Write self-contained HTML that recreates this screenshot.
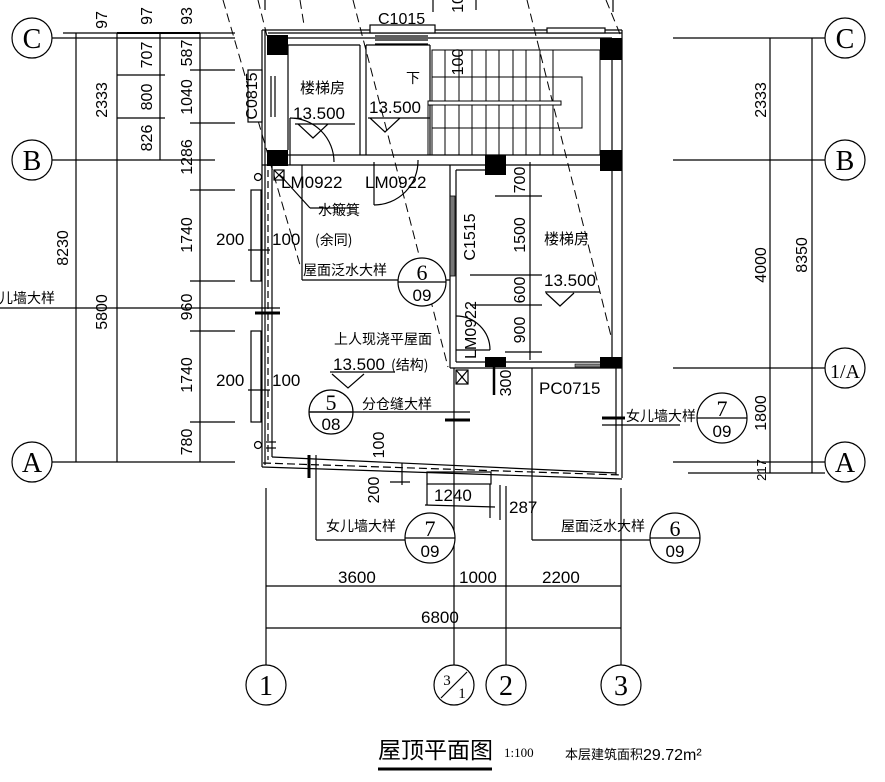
<!DOCTYPE html>
<html><head><meta charset="utf-8"><style>
html,body{margin:0;padding:0;background:#fff;}
svg{display:block}
text{font-family:"Liberation Sans","Noto Sans CJK SC",sans-serif;fill:#000}
.c{font-family:"Noto Sans CJK SC","WenQuanYi Zen Hei",sans-serif}
</style></head><body>
<svg width="885" height="782" viewBox="0 0 885 782" xmlns="http://www.w3.org/2000/svg" stroke="#000" fill="none" stroke-width="1.2">
<g stroke-dasharray="9,5" stroke-width="1">
<line x1="223" y1="0" x2="300" y2="265"/>
<line x1="258" y1="0" x2="268" y2="40"/>
<line x1="353" y1="0" x2="448" y2="367"/>
<line x1="527" y1="0" x2="612" y2="340"/>
<line x1="606" y1="0" x2="620" y2="34"/>
<line x1="300" y1="0" x2="304" y2="25"/>
</g>
<line x1="433" y1="0" x2="433" y2="12"/><line x1="476" y1="0" x2="476" y2="10"/><line x1="613" y1="0" x2="613" y2="12"/><line x1="265" y1="0" x2="265" y2="10"/>

<g stroke-width="1.2">
<line x1="52" y1="38" x2="235" y2="38"/>
<line x1="63" y1="33" x2="235" y2="33"/>
<line x1="52" y1="160" x2="215" y2="160"/>
<line x1="52" y1="462" x2="235" y2="462"/>
<line x1="0" y1="308" x2="280" y2="308"/>
<line x1="76" y1="33" x2="76" y2="462"/>
<line x1="117" y1="33" x2="117" y2="462"/>
<line x1="160" y1="33" x2="160" y2="160"/>
<line x1="200" y1="33" x2="200" y2="462"/>
<line x1="117" y1="75" x2="165" y2="75"/><line x1="117" y1="118" x2="165" y2="118"/>
<line x1="190" y1="70" x2="235" y2="70"/><line x1="190" y1="123" x2="235" y2="123"/>
<line x1="190" y1="190" x2="235" y2="190"/><line x1="190" y1="281" x2="235" y2="281"/>
<line x1="190" y1="331" x2="235" y2="331"/><line x1="190" y1="422" x2="235" y2="422"/>
</g>
<line x1="117" y1="33" x2="200" y2="33" stroke-width="2"/>
<g fill="#fff">
<circle cx="32" cy="38" r="20"/><circle cx="32" cy="160" r="20"/><circle cx="32" cy="462" r="20"/>
<circle cx="845" cy="38" r="20"/><circle cx="845" cy="160" r="20"/><circle cx="845" cy="368" r="20"/><circle cx="845" cy="462" r="20"/>
</g>
<g font-size="28" stroke="none" text-anchor="middle">
<text x="32" y="48" style="font-family:'Liberation Serif',serif">C</text>
<text x="32" y="170" style="font-family:'Liberation Serif',serif">B</text>
<text x="32" y="472" style="font-family:'Liberation Serif',serif">A</text>
<text x="845" y="48" style="font-family:'Liberation Serif',serif">C</text>
<text x="845" y="170" style="font-family:'Liberation Serif',serif">B</text>
<text x="845" y="472" style="font-family:'Liberation Serif',serif">A</text>
<text x="845" y="378" font-size="20" style="font-family:'Liberation Serif',serif">1/A</text>
</g>
<g stroke="none" font-size="16" text-anchor="middle">
<text transform="translate(68,248) rotate(-90)">8230</text>
<text transform="translate(107,100) rotate(-90)">2333</text>
<text transform="translate(107,312) rotate(-90)">5800</text>
<text transform="translate(107,20) rotate(-90)">97</text>
<text transform="translate(152,16) rotate(-90)">97</text>
<text transform="translate(152,55) rotate(-90)">707</text>
<text transform="translate(152,97) rotate(-90)">800</text>
<text transform="translate(152,138) rotate(-90)">826</text>
<text transform="translate(192,16) rotate(-90)">93</text>
<text transform="translate(192,53) rotate(-90)">587</text>
<text transform="translate(192,97) rotate(-90)">1040</text>
<text transform="translate(192,157) rotate(-90)">1286</text>
<text transform="translate(192,235) rotate(-90)">1740</text>
<text transform="translate(192,307) rotate(-90)">960</text>
<text transform="translate(192,375) rotate(-90)">1740</text>
<text transform="translate(192,442) rotate(-90)">780</text>
<text class="c" x="20" y="303" font-size="14">女儿墙大样</text>
</g>

<line x1="673" y1="38" x2="825" y2="38"/>
<line x1="673" y1="160" x2="825" y2="160"/>
<line x1="673" y1="368" x2="825" y2="368"/>
<line x1="673" y1="462" x2="825" y2="462"/>
<line x1="688" y1="473" x2="825" y2="473"/>
<line x1="770" y1="38" x2="770" y2="473"/>
<line x1="812" y1="38" x2="812" y2="473"/>
<g stroke="none" font-size="16" text-anchor="middle">
<text transform="translate(766,100) rotate(-90)">2333</text>
<text transform="translate(766,265) rotate(-90)">4000</text>
<text transform="translate(807,255) rotate(-90)">8350</text>
<text transform="translate(766,413) rotate(-90)">1800</text>
<text transform="translate(766,470) rotate(-90)" font-size="13">217</text>
</g>

<line x1="262" y1="30" x2="622" y2="30"/>
<line x1="262" y1="30" x2="262" y2="467"/>
<line x1="265" y1="30" x2="265" y2="465"/>
<line x1="268" y1="170" x2="268" y2="460" stroke-dasharray="7,4"/>
<line x1="272" y1="165" x2="272" y2="457"/>
<line x1="268" y1="38" x2="612" y2="38"/>
<line x1="268" y1="33" x2="622" y2="33"/>
<line x1="288" y1="45" x2="360" y2="45"/>
<line x1="288" y1="45" x2="288" y2="150"/>
<line x1="360" y1="45" x2="360" y2="155"/>
<line x1="366" y1="45" x2="366" y2="155"/>
<line x1="366" y1="45" x2="430" y2="45"/>
<line x1="430" y1="45" x2="430" y2="155"/>
<line x1="268" y1="155" x2="612" y2="155"/>
<line x1="262" y1="165" x2="612" y2="165"/>
<line x1="612" y1="38" x2="612" y2="362"/>
<line x1="622" y1="30" x2="622" y2="478"/>
<line x1="616" y1="368" x2="616" y2="475"/>
<line x1="450" y1="165" x2="450" y2="368"/>
<line x1="456" y1="170" x2="456" y2="362"/>
<line x1="456" y1="170" x2="485" y2="170"/>
<line x1="456" y1="362" x2="612" y2="362"/>
<line x1="450" y1="368" x2="622" y2="368"/>
<rect x="450" y="196" width="5" height="80" fill="#777" stroke-width="0.8"/>
<rect x="575" y="364" width="40" height="3" fill="#888" stroke-width="0.6"/>
<g fill="#000" stroke="none">
<rect x="267" y="35" width="21" height="20"/>
<rect x="267" y="150" width="21" height="16"/>
<rect x="485" y="155" width="21" height="20"/>
<rect x="600" y="38" width="22" height="22"/>
<rect x="600" y="150" width="22" height="21"/>
<rect x="485" y="357" width="21" height="10"/>
<rect x="600" y="357" width="22" height="11"/>
</g>
<rect x="370" y="25" width="65" height="8" fill="#fff"/>
<line x1="375" y1="36" x2="428" y2="36"/><line x1="375" y1="40" x2="428" y2="40"/><line x1="375" y1="44" x2="428" y2="44"/>
<rect x="547" y="28" width="58" height="5" fill="#fff"/>
<rect x="248" y="70" width="14" height="52" fill="#fff"/>
<line x1="271" y1="76" x2="271" y2="117"/><line x1="275" y1="76" x2="275" y2="117"/>
<g stroke-width="1">
<rect x="432" y="50" width="168" height="105"/>
<rect x="432" y="77" width="150" height="51"/>
<line x1="445" y1="50" x2="445" y2="155"/><line x1="459" y1="50" x2="459" y2="155"/>
<line x1="472" y1="50" x2="472" y2="155"/><line x1="486" y1="50" x2="486" y2="155"/>
<line x1="499" y1="50" x2="499" y2="155"/><line x1="513" y1="50" x2="513" y2="155"/>
<line x1="526" y1="50" x2="526" y2="155"/><line x1="540" y1="50" x2="540" y2="155"/>
<line x1="553" y1="50" x2="553" y2="155"/>
<rect x="428" y="101" width="133" height="4" fill="#fff"/>
<line x1="428" y1="103" x2="428" y2="155"/>
</g>
<path d="M290,118 L290,165" /><path d="M290,118 A44,44 0 0 1 334,162"/>
<line x1="302" y1="165" x2="302" y2="280"/>
<line x1="302" y1="280" x2="450" y2="280"/>
<line x1="374" y1="162" x2="374" y2="205"/><path d="M374,205 A44,44 0 0 0 418,160"/>
<line x1="456" y1="350" x2="490" y2="350"/><path d="M490,350 A34,34 0 0 0 456,316"/>
<rect x="274" y="170" width="10" height="10"/><line x1="274" y1="170" x2="284" y2="180"/><line x1="284" y1="170" x2="274" y2="180"/>
<circle cx="258" cy="177" r="3.5"/>
<circle cx="258" cy="445" r="3.5"/><line x1="266" y1="442" x2="276" y2="442"/><line x1="266" y1="448" x2="276" y2="448"/>
<rect x="456" y="370" width="12" height="14"/><line x1="456" y1="370" x2="468" y2="384"/><line x1="468" y1="370" x2="456" y2="384"/>
<line x1="280" y1="175" x2="310" y2="208"/><line x1="310" y1="208" x2="355" y2="208"/>
<rect x="251" y="190" width="10" height="91"/><rect x="251" y="331" width="10" height="91"/>
<line x1="248" y1="250" x2="270" y2="250"/><line x1="248" y1="390" x2="270" y2="390"/>
<line x1="255" y1="313" x2="280" y2="313" stroke-width="3"/>
<line x1="272" y1="457" x2="616" y2="473"/>
<line x1="263" y1="463" x2="622" y2="475" stroke-dasharray="8,4"/>
<line x1="262" y1="467" x2="622" y2="479"/>
<line x1="454" y1="368" x2="454" y2="665"/>
<line x1="506" y1="486" x2="506" y2="665"/>
<line x1="266" y1="488" x2="266" y2="665"/>
<line x1="621" y1="488" x2="621" y2="665"/>
<line x1="532" y1="368" x2="532" y2="540"/><line x1="532" y1="540" x2="660" y2="540"/>
<line x1="316" y1="455" x2="316" y2="540"/><line x1="316" y1="540" x2="452" y2="540"/>
<line x1="309" y1="455" x2="309" y2="478" stroke-width="3"/>
<line x1="445" y1="420" x2="470" y2="420" stroke-width="3"/>
<line x1="602" y1="418" x2="625" y2="418" stroke-width="3"/><line x1="602" y1="425" x2="680" y2="425"/>
<line x1="494" y1="358" x2="494" y2="395" stroke-width="2.5"/>
<line x1="402" y1="463" x2="402" y2="485"/>
<line x1="390" y1="482" x2="410" y2="482"/>
<rect x="427" y="472" width="64" height="12"/>
<line x1="427" y1="484" x2="427" y2="505"/><line x1="490" y1="484" x2="490" y2="518"/>
<line x1="425" y1="505" x2="495" y2="507"/>
<line x1="500" y1="485" x2="500" y2="520"/>
<line x1="266" y1="586" x2="621" y2="586"/>
<line x1="266" y1="628" x2="621" y2="628"/>
<g fill="#fff">
<circle cx="422" cy="282" r="24"/><circle cx="331" cy="412" r="22"/>
<circle cx="722" cy="418" r="25"/><circle cx="430" cy="538" r="25"/><circle cx="675" cy="538" r="25"/>
<circle cx="266" cy="685" r="20"/><circle cx="454" cy="685" r="20"/><circle cx="506" cy="685" r="20"/><circle cx="621" cy="685" r="20"/>
</g>
<line x1="398" y1="282" x2="446" y2="282"/><line x1="309" y1="412" x2="353" y2="412"/>
<line x1="697" y1="418" x2="747" y2="418"/><line x1="405" y1="538" x2="455" y2="538"/><line x1="650" y1="538" x2="700" y2="538"/>
<line x1="309" y1="412" x2="470" y2="412"/>
<line x1="441" y1="698" x2="467" y2="672"/>
<path d="M295,124 L355,124 M298,124 L313,138 L328,124"/>
<path d="M368,118 L430,118 M370,118 L385,132 L400,118"/>
<path d="M330,372 L395,372 M332,374 L348,388 L364,374"/>
<path d="M545,292 L600,292 M546,293 L560,306 L574,293"/>
<line x1="530" y1="162" x2="530" y2="360"/>
<line x1="495" y1="196" x2="542" y2="196"/><line x1="470" y1="275" x2="542" y2="275"/>
<line x1="470" y1="305" x2="542" y2="305"/><line x1="505" y1="352" x2="542" y2="352"/>

<g stroke="none" font-size="16">
<text x="378" y="24">C1015</text>
<text transform="translate(463,62) rotate(-90)" text-anchor="middle">100</text>
<text transform="translate(463,4) rotate(-90)" text-anchor="middle">10</text>
<text class="c" x="406" y="83" font-size="14">下</text>
<text class="c" x="300" y="93" font-size="15">楼梯房</text>
<text x="293" y="119" font-size="17">13.500</text>
<text x="369" y="113" font-size="17">13.500</text>
<text transform="translate(257,96) rotate(-90)" text-anchor="middle">C0815</text>
<text x="281" y="188" font-size="17">LM0922</text>
<text x="365" y="188" font-size="17">LM0922</text>
<text class="c" x="318" y="215" font-size="14">水簸箕</text>
<text class="c" x="315" y="245" font-size="14">(余同)</text>
<text class="c" x="303" y="275" font-size="14">屋面泛水大样</text>
<text x="216" y="245" font-size="17">200</text><text x="272" y="245" font-size="17">100</text>
<text x="216" y="386" font-size="17">200</text><text x="272" y="386" font-size="17">100</text>
<text class="c" x="334" y="344" font-size="14">上人现浇平屋面</text>
<text x="333" y="370" font-size="17">13.500</text><text class="c" x="391" y="370" font-size="14">(结构)</text>
<text class="c" x="362" y="409" font-size="14">分仓缝大样</text>
<text transform="translate(475,237) rotate(-90)" text-anchor="middle">C1515</text>
<text transform="translate(525,180) rotate(-90)" text-anchor="middle">700</text>
<text transform="translate(525,235) rotate(-90)" text-anchor="middle">1500</text>
<text transform="translate(525,290) rotate(-90)" text-anchor="middle">600</text>
<text transform="translate(525,330) rotate(-90)" text-anchor="middle">900</text>
<text class="c" x="544" y="244" font-size="15">楼梯房</text>
<text x="544" y="286" font-size="17">13.500</text>
<text transform="translate(476,330) rotate(-90)" text-anchor="middle">LM0922</text>
<text transform="translate(511,383) rotate(-90)" text-anchor="middle">300</text>
<text x="539" y="394" font-size="17">PC0715</text>
<text class="c" x="626" y="421" font-size="14">女儿墙大样</text>
<text transform="translate(384,445) rotate(-90)" text-anchor="middle">100</text>
<text transform="translate(379,490) rotate(-90)" text-anchor="middle">200</text>
<text x="434" y="501" font-size="17">1240</text>
<text x="509" y="513" font-size="17">287</text>
<text class="c" x="326" y="531" font-size="14">女儿墙大样</text>
<text class="c" x="561" y="531" font-size="14">屋面泛水大样</text>
<text x="338" y="583" font-size="17">3600</text>
<text x="459" y="583" font-size="17">1000</text>
<text x="542" y="583" font-size="17">2200</text>
<text x="421" y="623" font-size="17">6800</text>
</g>
<g stroke="none" text-anchor="middle">
<text x="422" y="280" font-size="22" style="font-family:'Liberation Serif',serif">6</text>
<text x="422" y="301" font-size="17">09</text>
<text x="331" y="410" font-size="22" style="font-family:'Liberation Serif',serif">5</text>
<text x="331" y="430" font-size="17">08</text>
<text x="722" y="416" font-size="22" style="font-family:'Liberation Serif',serif">7</text>
<text x="722" y="437" font-size="17">09</text>
<text x="430" y="536" font-size="22" style="font-family:'Liberation Serif',serif">7</text>
<text x="430" y="557" font-size="17">09</text>
<text x="675" y="536" font-size="22" style="font-family:'Liberation Serif',serif">6</text>
<text x="675" y="557" font-size="17">09</text>
<text x="266" y="695" font-size="28" style="font-family:'Liberation Serif',serif">1</text>
<text x="447" y="685" font-size="15" style="font-family:'Liberation Serif',serif">3</text>
<text x="462" y="698" font-size="15" style="font-family:'Liberation Serif',serif">1</text>
<text x="506" y="695" font-size="28" style="font-family:'Liberation Serif',serif">2</text>
<text x="621" y="695" font-size="28" style="font-family:'Liberation Serif',serif">3</text>
</g>
<g stroke="none">
<text class="c" x="378" y="758" font-size="23">屋顶平面图</text>
<text x="504" y="757" font-size="13" style="font-family:'Liberation Serif',serif">1:100</text>
<text class="c" x="565" y="759" font-size="13">本层建筑面积</text><text x="643" y="760" font-size="16">29.72m²</text>
</g>
<line x1="378" y1="769" x2="492" y2="769" stroke-width="3"/>
</svg>
</body></html>
